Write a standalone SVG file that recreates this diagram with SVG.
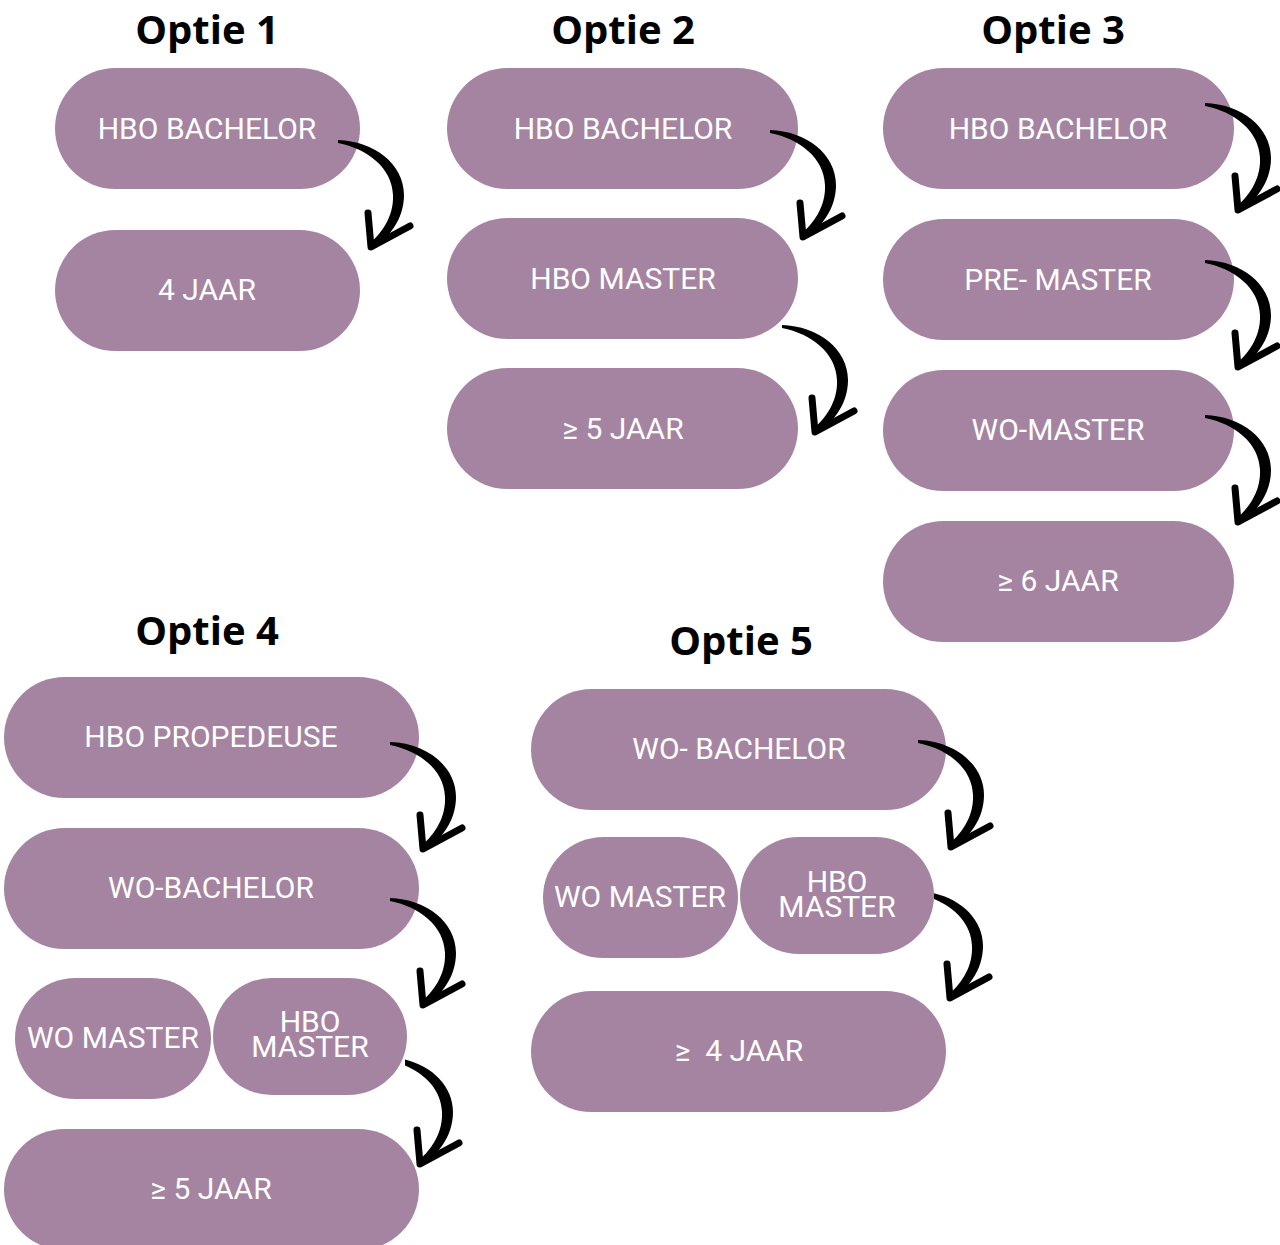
<svg xmlns="http://www.w3.org/2000/svg" xmlns:xlink="http://www.w3.org/1999/xlink" width="1280" height="1245" viewBox="0 0 1280 1245">
<style>
.pill{fill:#a584a2}
.lbl{font-family:Roboto,"Liberation Sans",sans-serif;font-size:30px;fill:#ffffff;text-anchor:middle}
.ttl{font-family:"Open Sans","Liberation Sans",sans-serif;font-weight:bold;font-size:40px;fill:#000;text-anchor:middle}
</style>
<defs>
<g id="arrow">
<path d="M0,0 C36,1 66,24 66,55 C66,80 50,98 35,109 L30,105 C43,94 56,77 55,55 C54,28 30,9 0,3 Z" fill="#000"/>
<path d="M30,73 L33,107 L72,86" fill="none" stroke="#000" stroke-width="7" stroke-linecap="round" stroke-linejoin="round"/>
</g>
<clipPath id="clipA"><rect x="405" y="1040" width="100" height="150"/></clipPath>
<clipPath id="clipB"><rect x="934" y="880" width="100" height="150"/></clipPath>
</defs>
<rect width="1280" height="1245" fill="#fff"/>
<g id="titles">
<text class="ttl" x="207" y="44">Optie 1</text>
<text class="ttl" x="623" y="44">Optie 2</text>
<text class="ttl" x="1053" y="44">Optie 3</text>
<text class="ttl" x="207" y="645">Optie 4</text>
<text class="ttl" x="741" y="655">Optie 5</text>
</g>
<g id="o1-hbo-bachelor"><rect class="pill" x="55" y="68" width="305" height="121" rx="60.5"/><text class="lbl" x="207" y="139">HBO BACHELOR</text></g>
<g id="o1-4jaar"><rect class="pill" x="55" y="230" width="305" height="121" rx="60.5"/><text class="lbl" x="207" y="300">4 JAAR</text></g>
<g id="o2-hbo-bachelor"><rect class="pill" x="447" y="68" width="351" height="121" rx="60.5"/><text class="lbl" x="623" y="139">HBO BACHELOR</text></g>
<g id="o2-hbo-master"><rect class="pill" x="447" y="218" width="351" height="121" rx="60.5"/><text class="lbl" x="623" y="289">HBO MASTER</text></g>
<g id="o2-5jaar"><rect class="pill" x="447" y="368" width="351" height="121" rx="60.5"/><text class="lbl" x="623" y="439">≥ 5 JAAR</text></g>
<g id="o3-hbo-bachelor"><rect class="pill" x="883" y="68" width="351" height="121" rx="60.5"/><text class="lbl" x="1058" y="139">HBO BACHELOR</text></g>
<g id="o3-pre-master"><rect class="pill" x="883" y="219" width="351" height="121" rx="60.5"/><text class="lbl" x="1058" y="290">PRE- MASTER</text></g>
<g id="o3-wo-master"><rect class="pill" x="883" y="370" width="351" height="121" rx="60.5"/><text class="lbl" x="1058" y="440">WO-MASTER</text></g>
<g id="o3-6jaar"><rect class="pill" x="883" y="521" width="351" height="121" rx="60.5"/><text class="lbl" x="1058" y="591">≥ 6 JAAR</text></g>
<g id="o4-hbo-propedeuse"><rect class="pill" x="4" y="677" width="415" height="121" rx="60.5"/><text class="lbl" x="211" y="747">HBO PROPEDEUSE</text></g>
<g id="o4-wo-bachelor"><rect class="pill" x="4" y="828" width="415" height="121" rx="60.5"/><text class="lbl" x="211" y="898">WO-BACHELOR</text></g>
<g id="o4-wo-master"><rect class="pill" x="15" y="978" width="196" height="121" rx="60.5"/><text class="lbl" x="113" y="1048">WO MASTER</text></g>
<g id="o4-hbo-master"><rect class="pill" x="213" y="978" width="194" height="117" rx="58.5"/><text class="lbl" x="310" y="1032">HBO</text><text class="lbl" x="310" y="1057">MASTER</text></g>
<g id="o4-5jaar"><rect class="pill" x="4" y="1129" width="415" height="121" rx="60.5"/><text class="lbl" x="211" y="1199">≥ 5 JAAR</text></g>
<g id="o5-wo-bachelor"><rect class="pill" x="531" y="689" width="415" height="121" rx="60.5"/><text class="lbl" x="739" y="759">WO- BACHELOR</text></g>
<g id="o5-wo-master"><rect class="pill" x="543" y="837" width="195" height="121" rx="60.5"/><text class="lbl" x="640" y="907">WO MASTER</text></g>
<g id="o5-hbo-master"><rect class="pill" x="740" y="837" width="194" height="117" rx="58.5"/><text class="lbl" x="837" y="892">HBO</text><text class="lbl" x="837" y="917">MASTER</text></g>
<g id="o5-4jaar"><rect class="pill" x="531" y="991" width="415" height="121" rx="60.5"/><text class="lbl" x="739" y="1061" xml:space="preserve">≥  4 JAAR</text></g>
<g id="connectors">
<use xlink:href="#arrow" transform="translate(338,140)"/>
<use xlink:href="#arrow" transform="translate(770,130)"/>
<use xlink:href="#arrow" transform="translate(782,325)"/>
<use xlink:href="#arrow" transform="translate(1205,103)"/>
<use xlink:href="#arrow" transform="translate(1205,260)"/>
<use xlink:href="#arrow" transform="translate(1205,415)"/>
<use xlink:href="#arrow" transform="translate(390,742)"/>
<use xlink:href="#arrow" transform="translate(390,898)"/>
<g clip-path="url(#clipA)"><use xlink:href="#arrow" transform="translate(387,1057)"/></g>
<use xlink:href="#arrow" transform="translate(918,740)"/>
<g clip-path="url(#clipB)"><use xlink:href="#arrow" transform="translate(917,891)"/></g>
</g>
</svg>
